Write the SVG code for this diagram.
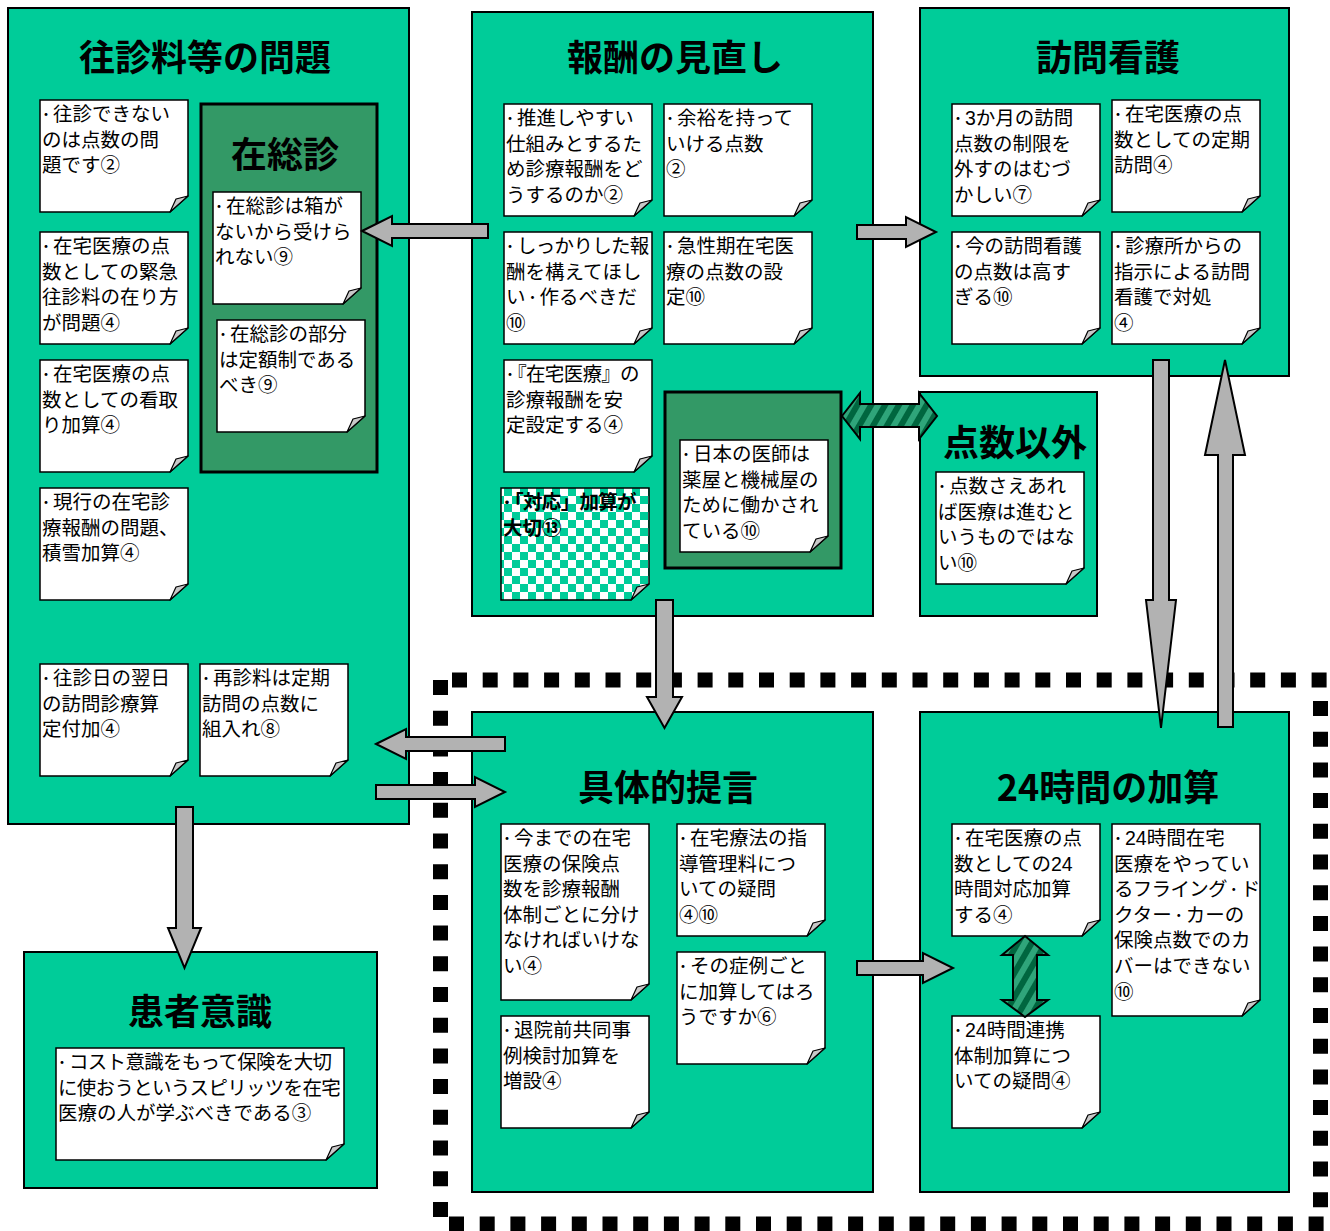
<svg xmlns="http://www.w3.org/2000/svg" xmlns:xlink="http://www.w3.org/1999/xlink" width="1330" height="1231" viewBox="0 0 1330 1231">
<style>
.box{fill:#00CC99;stroke:#000;stroke-width:2}
.dbox{fill:#339966;stroke:#000;stroke-width:3}
.nb{fill:#fff;stroke:#000;stroke-width:1.5}
.nf{fill:#C8C8C8;stroke:#000;stroke-width:1.2;stroke-linejoin:round}
.t{font-family:"Noto Sans CJK JP","Noto Sans CJK SC",sans-serif;font-weight:bold;font-size:36px;text-anchor:middle;fill:#000}
.n{font-family:"Liberation Sans","Noto Sans CJK JP","Noto Sans CJK SC",sans-serif;font-size:19.5px;fill:#000}
.d{font-size:14px}
.tg{letter-spacing:-0.7px}
.bd{font-weight:bold}
.arr{fill:#B2B2B2;stroke:#000;stroke-width:2;stroke-linejoin:miter}
.sarr{fill:url(#str);stroke:#000;stroke-width:2}
.dash{fill:none;stroke:#000;stroke-width:15;stroke-dasharray:15 15.7}
</style>
<defs>
<g id="note"><path class="nb" d="M0 0H148V96L130 112H0Z"/><path class="nf" d="M130 112L136 99L148 96Z"/></g>
<pattern id="chk" width="16" height="16" patternUnits="userSpaceOnUse"><rect width="16" height="16" fill="#fff"/><rect width="8" height="8" fill="#00CC99"/><rect x="8" y="8" width="8" height="8" fill="#00CC99"/></pattern>
<pattern id="str" width="12" height="12" patternUnits="userSpaceOnUse" patternTransform="rotate(30)"><rect width="12" height="12" fill="#00663F"/><rect width="6" height="12" fill="#2FA57A"/></pattern>
</defs>
<rect width="1330" height="1231" fill="#fff"/>

<g id="dotted-border">
<path class="dash" d="M452 680H1328"/>
<path class="dash" d="M440.5 680V1217"/>
<path class="dash" d="M1320.5 701V1208"/>
<path class="dash" d="M449 1224H1324"/>
</g>

<g id="box-oushin">
<rect class="box" x="8" y="8" width="401" height="816"/>
<text class="t" x="205" y="71">往診料等の問題</text>
<use xlink:href="#note" x="40" y="100"/>
<text class="n" x="42" y="121"><tspan x="39" class="d" dy="-2">・</tspan><tspan dy="2">往診できない</tspan><tspan x="42" dy="25.6">のは点数の問</tspan><tspan x="42" dy="25.6">題です②</tspan></text>
<use xlink:href="#note" x="40" y="232"/>
<text class="n" x="42" y="253"><tspan x="39" class="d" dy="-2">・</tspan><tspan dy="2">在宅医療の点</tspan><tspan x="42" dy="25.6">数としての緊急</tspan><tspan x="42" dy="25.6">往診料の在り方</tspan><tspan x="42" dy="25.6">が問題④</tspan></text>
<use xlink:href="#note" x="40" y="360"/>
<text class="n" x="42" y="381"><tspan x="39" class="d" dy="-2">・</tspan><tspan dy="2">在宅医療の点</tspan><tspan x="42" dy="25.6">数としての看取</tspan><tspan x="42" dy="25.6">り加算④</tspan></text>
<use xlink:href="#note" x="40" y="488"/>
<text class="n" x="42" y="509"><tspan x="39" class="d" dy="-2">・</tspan><tspan dy="2">現行の在宅診</tspan><tspan x="42" dy="25.6">療報酬の問題、</tspan><tspan x="42" dy="25.6">積雪加算④</tspan></text>
<use xlink:href="#note" x="40" y="664"/>
<text class="n" x="42" y="685"><tspan x="39" class="d" dy="-2">・</tspan><tspan dy="2">往診日の翌日</tspan><tspan x="42" dy="25.6">の訪問診療算</tspan><tspan x="42" dy="25.6">定付加④</tspan></text>
<use xlink:href="#note" x="200" y="664"/>
<text class="n" x="202" y="685"><tspan x="199" class="d" dy="-2">・</tspan><tspan dy="2">再診料は定期</tspan><tspan x="202" dy="25.6">訪問の点数に</tspan><tspan x="202" dy="25.6">組入れ⑧</tspan></text>
</g>

<g id="box-zaisoushin">
<rect class="dbox" x="201" y="104" width="176" height="368"/>
<text class="t" x="285" y="168">在総診</text>
<use xlink:href="#note" x="213" y="192"/>
<text class="n" x="215" y="213"><tspan x="212" class="d" dy="-2">・</tspan><tspan dy="2">在総診は箱が</tspan><tspan x="215" dy="25.6">ないから受けら</tspan><tspan x="215" dy="25.6">れない⑨</tspan></text>
<use xlink:href="#note" x="217" y="320"/>
<text class="n" x="219" y="341"><tspan x="216" class="d" dy="-2">・</tspan><tspan dy="2">在総診の部分</tspan><tspan x="219" dy="25.6">は定額制である</tspan><tspan x="219" dy="25.6">べき⑨</tspan></text>
</g>

<g id="box-housyu">
<rect class="box" x="472" y="12" width="401" height="604"/>
<text class="t" x="675" y="71">報酬の見直し</text>
<use xlink:href="#note" x="504" y="104"/>
<text class="n" x="506" y="125"><tspan x="503" class="d" dy="-2">・</tspan><tspan dy="2">推進しやすい</tspan><tspan x="506" dy="25.6">仕組みとするた</tspan><tspan x="506" dy="25.6">め診療報酬をど</tspan><tspan x="506" dy="25.6">うするのか②</tspan></text>
<use xlink:href="#note" x="664" y="104"/>
<text class="n" x="666" y="125"><tspan x="663" class="d" dy="-2">・</tspan><tspan dy="2">余裕を持って</tspan><tspan x="666" dy="25.6">いける点数</tspan><tspan x="666" dy="25.6">②</tspan></text>
<use xlink:href="#note" x="504" y="232"/>
<text class="n" x="506" y="253"><tspan x="503" class="d" dy="-2">・</tspan><tspan dy="2" class="tg">しっかりした報</tspan><tspan x="506" dy="25.6">酬を構えてほし</tspan><tspan x="506" dy="25.6">い</tspan><tspan class="d" dy="-2">・</tspan><tspan dy="2">作るべきだ</tspan><tspan x="506" dy="25.6">⑩</tspan></text>
<use xlink:href="#note" x="664" y="232"/>
<text class="n" x="666" y="253"><tspan x="663" class="d" dy="-2">・</tspan><tspan dy="2">急性期在宅医</tspan><tspan x="666" dy="25.6">療の点数の設</tspan><tspan x="666" dy="25.6">定⑩</tspan></text>
<use xlink:href="#note" x="504" y="360"/>
<text class="n" x="506" y="381"><tspan x="503" class="d" dy="-2">・</tspan><tspan dy="2" class="tg">『在宅医療』の</tspan><tspan x="506" dy="25.6">診療報酬を安</tspan><tspan x="506" dy="25.6">定設定する④</tspan></text>
<path class="nb" d="M501 488H649V584L631 600H501Z" style="fill:url(#chk)"/>
<path class="nf" d="M631 600L637 587L649 584Z"/>
<text class="n bd" x="503" y="509"><tspan x="500" class="d" dy="-2">・</tspan><tspan dy="2" class="tg">「対応」加算が</tspan><tspan x="503" dy="25.6">大切⑬</tspan></text>
</g>

<g id="box-ishi">
<rect class="dbox" x="665" y="392" width="176" height="176"/>
<use xlink:href="#note" x="680" y="440"/>
<text class="n" x="682" y="461"><tspan x="679" class="d" dy="-2">・</tspan><tspan dy="2">日本の医師は</tspan><tspan x="682" dy="25.6">薬屋と機械屋の</tspan><tspan x="682" dy="25.6">ために働かされ</tspan><tspan x="682" dy="25.6">ている⑩</tspan></text>
</g>

<g id="box-houmon">
<rect class="box" x="920" y="8" width="369" height="368"/>
<text class="t" x="1108" y="71">訪問看護</text>
<use xlink:href="#note" x="952" y="104"/>
<text class="n" x="954" y="125"><tspan x="951" class="d" dy="-2">・</tspan><tspan dy="2">3か月の訪問</tspan><tspan x="954" dy="25.6">点数の制限を</tspan><tspan x="954" dy="25.6">外すのはむづ</tspan><tspan x="954" dy="25.6">かしい⑦</tspan></text>
<use xlink:href="#note" x="1112" y="100"/>
<text class="n" x="1114" y="121"><tspan x="1111" class="d" dy="-2">・</tspan><tspan dy="2">在宅医療の点</tspan><tspan x="1114" dy="25.6">数としての定期</tspan><tspan x="1114" dy="25.6">訪問④</tspan></text>
<use xlink:href="#note" x="952" y="232"/>
<text class="n" x="954" y="253"><tspan x="951" class="d" dy="-2">・</tspan><tspan dy="2">今の訪問看護</tspan><tspan x="954" dy="25.6">の点数は高す</tspan><tspan x="954" dy="25.6">ぎる⑩</tspan></text>
<use xlink:href="#note" x="1112" y="232"/>
<text class="n" x="1114" y="253"><tspan x="1111" class="d" dy="-2">・</tspan><tspan dy="2">診療所からの</tspan><tspan x="1114" dy="25.6">指示による訪問</tspan><tspan x="1114" dy="25.6">看護で対処</tspan><tspan x="1114" dy="25.6">④</tspan></text>
</g>

<g id="box-tensuigai">
<rect class="box" x="920" y="392" width="177" height="224"/>
<text class="t" x="1015" y="456">点数以外</text>
<use xlink:href="#note" x="936" y="472"/>
<text class="n" x="938" y="493"><tspan x="935" class="d" dy="-2">・</tspan><tspan dy="2">点数さえあれ</tspan><tspan x="938" dy="25.6">ば医療は進むと</tspan><tspan x="938" dy="25.6">いうものではな</tspan><tspan x="938" dy="25.6">い⑩</tspan></text>
</g>

<g id="box-kanja">
<rect class="box" x="24" y="952" width="353" height="236"/>
<text class="t" x="200" y="1025">患者意識</text>
<path class="nb" d="M56 1048H344V1144L326 1160H56Z"/>
<path class="nf" d="M326 1160L332 1147L344 1144Z"/>
<text class="n" x="58" y="1069"><tspan x="55" class="d" dy="-2">・</tspan><tspan dy="2" class="tg">コスト意識をもって保険を大切</tspan><tspan x="58" dy="25.6" class="tg">に使おうというスピリッツを在宅</tspan><tspan x="58" dy="25.6">医療の人が学ぶべきである③</tspan></text>
</g>

<g id="box-teigen">
<rect class="box" x="472" y="712" width="401" height="480"/>
<text class="t" x="668" y="801">具体的提言</text>
<path class="nb" d="M501 824H649V984L631 1000H501Z"/>
<path class="nf" d="M631 1000L637 987L649 984Z"/>
<text class="n" x="503" y="845"><tspan x="500" class="d" dy="-2">・</tspan><tspan dy="2">今までの在宅</tspan><tspan x="503" dy="25.6">医療の保険点</tspan><tspan x="503" dy="25.6">数を診療報酬</tspan><tspan x="503" dy="25.6">体制ごとに分け</tspan><tspan x="503" dy="25.6">なければいけな</tspan><tspan x="503" dy="25.6">い④</tspan></text>
<use xlink:href="#note" x="677" y="824"/>
<text class="n" x="679" y="845"><tspan x="676" class="d" dy="-2">・</tspan><tspan dy="2">在宅療法の指</tspan><tspan x="679" dy="25.6">導管理料につ</tspan><tspan x="679" dy="25.6">いての疑問</tspan><tspan x="679" dy="25.6">④⑩</tspan></text>
<use xlink:href="#note" x="677" y="952"/>
<text class="n" x="679" y="973"><tspan x="676" class="d" dy="-2">・</tspan><tspan dy="2">その症例ごと</tspan><tspan x="679" dy="25.6">に加算してはろ</tspan><tspan x="679" dy="25.6">うですか⑥</tspan></text>
<use xlink:href="#note" x="501" y="1016"/>
<text class="n" x="503" y="1037"><tspan x="500" class="d" dy="-2">・</tspan><tspan dy="2">退院前共同事</tspan><tspan x="503" dy="25.6">例検討加算を</tspan><tspan x="503" dy="25.6">増設④</tspan></text>
</g>

<g id="box-24h">
<rect class="box" x="920" y="712" width="369" height="480"/>
<text class="t" x="1108" y="801">24時間の加算</text>
<use xlink:href="#note" x="952" y="824"/>
<text class="n" x="954" y="845"><tspan x="951" class="d" dy="-2">・</tspan><tspan dy="2">在宅医療の点</tspan><tspan x="954" dy="25.6">数としての24</tspan><tspan x="954" dy="25.6">時間対応加算</tspan><tspan x="954" dy="25.6">する④</tspan></text>
<path class="nb" d="M1112 824H1260V1000L1242 1016H1112Z"/>
<path class="nf" d="M1242 1016L1248 1003L1260 1000Z"/>
<text class="n" x="1114" y="845"><tspan x="1111" class="d" dy="-2">・</tspan><tspan dy="2">24時間在宅</tspan><tspan x="1114" dy="25.6">医療をやってい</tspan><tspan x="1114" dy="25.6" class="tg">るフライング</tspan><tspan class="d" dy="-2">・</tspan><tspan dy="2" class="tg">ド</tspan><tspan x="1114" dy="25.6">クター</tspan><tspan class="d" dy="-2">・</tspan><tspan dy="2">カーの</tspan><tspan x="1114" dy="25.6">保険点数でのカ</tspan><tspan x="1114" dy="25.6">バーはできない</tspan><tspan x="1114" dy="25.6">⑩</tspan></text>
<use xlink:href="#note" x="952" y="1016"/>
<text class="n" x="954" y="1037"><tspan x="951" class="d" dy="-2">・</tspan><tspan dy="2">24時間連携</tspan><tspan x="954" dy="25.6">体制加算につ</tspan><tspan x="954" dy="25.6">いての疑問④</tspan></text>
</g>

<g id="connectors">
<polygon class="arr" points="362,231 392,216 392,224 488,224 488,238 392,238 392,246"/>
<polygon class="arr" points="857,225 906,225 906,217 936,232 906,247 906,239 857,239"/>
<polygon class="arr" points="656,600 673,600 673,697 682,697 664.5,728 647,697 656,697"/>
<polygon class="arr" points="376,744 406,729 406,737 505,737 505,751 406,751 406,759"/>
<polygon class="arr" points="376,785 475,785 475,777 505,792 475,807 475,799 376,799"/>
<polygon class="arr" points="176,807 193,807 193,928 201,928 184.5,968 168,928 176,928"/>
<polygon class="arr" points="857,961 923,961 923,953 953,968 923,983 923,975 857,975"/>
<polygon class="arr" points="1153,360 1169,360 1169,600 1176,600 1161,728 1146,600 1153,600"/>
<polygon class="arr" points="1218,727 1233,727 1233,455 1245,455 1225,360 1205,455 1218,455"/>
<polygon class="sarr" points="842,416 860,393 860,404 919,404 919,393 937,416 919,439 919,427 860,427 860,439"/>
<polygon class="sarr" points="1025,936 1048,955 1037,955 1037,1000 1048,1000 1025,1017 1002,1000 1013,1000 1013,955 1002,955"/>
</g>
</svg>
